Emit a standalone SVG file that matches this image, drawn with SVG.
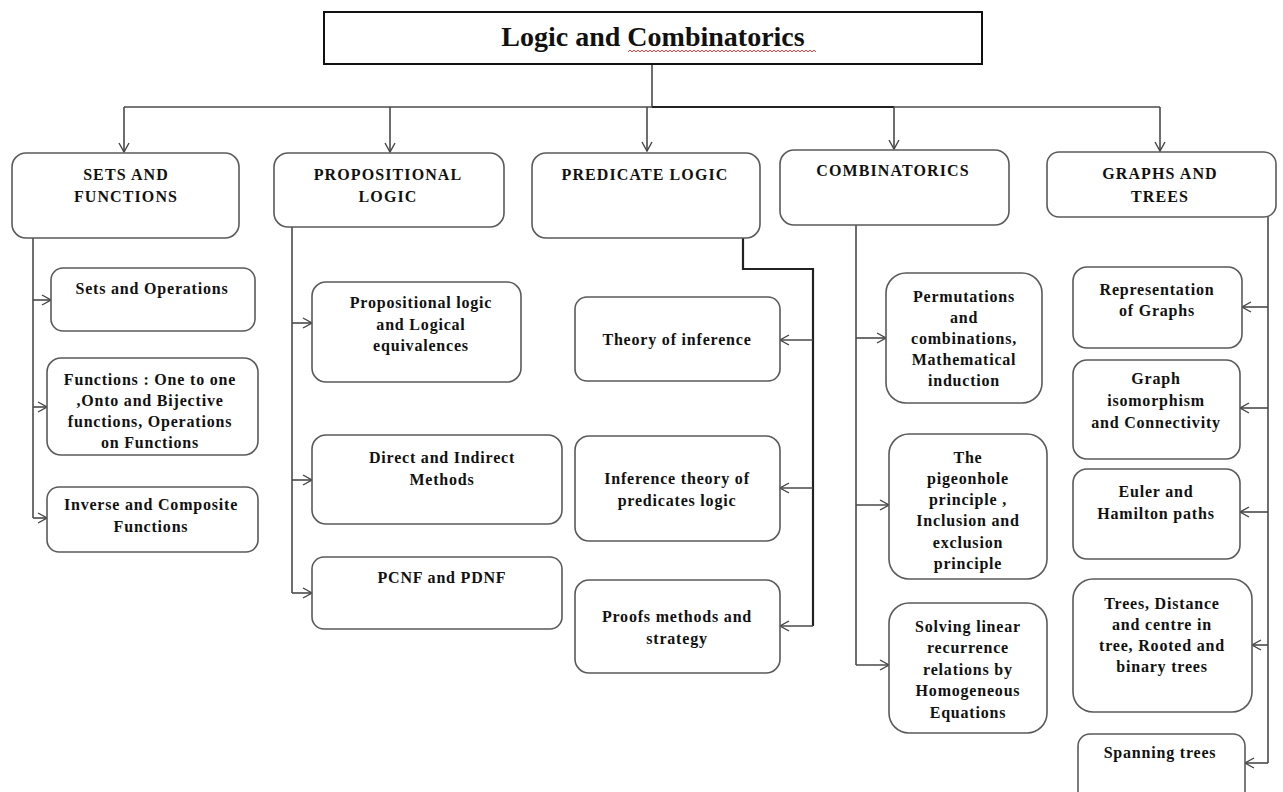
<svg xmlns="http://www.w3.org/2000/svg" width="1283" height="792" viewBox="0 0 1283 792">
<defs>
<marker id="ah" markerUnits="userSpaceOnUse" markerWidth="12" markerHeight="12" refX="10" refY="6" orient="auto" viewBox="0 0 12 12"><path d="M1,1 L10,6 L1,11" fill="none" stroke="#444" stroke-width="1.4"/></marker>
<style>
.box{fill:#fff;stroke:#5a5a5a;stroke-width:1.6}
.title{fill:#fff;stroke:#111;stroke-width:2}
.ln{fill:none;stroke:#4a4a4a;stroke-width:1.6}
.dk{fill:none;stroke:#222;stroke-width:2.2}
.arr{fill:none;stroke:#4a4a4a;stroke-width:1.6;marker-end:url(#ah)}
text{font-family:"Liberation Serif","Times New Roman",serif;font-weight:bold;fill:#111;text-anchor:middle}
.h{font-size:16px;letter-spacing:1.1px}
.c{font-size:16px;letter-spacing:0.8px}
.t{font-size:28px}
</style>
</defs>
<rect width="1283" height="792" fill="#fff"/>

<g id="connectors">
<path class="ln" d="M652,64 V107"/>
<path class="ln" d="M124,107 H1160"/>
<path class="dk" d="M652,107 H894"/>
<path class="arr" d="M124,107 V152"/>
<path class="arr" d="M390,107 V152"/>
<path class="arr" d="M647,107 V151"/>
<path class="arr" d="M894,107 V149"/>
<path class="arr" d="M1160,107 V151"/>

<path class="ln" d="M33,238 V518"/>
<path class="arr" d="M33,300 H51"/>
<path class="arr" d="M33,407 H47"/>
<path class="arr" d="M33,518 H47"/>

<path class="ln" d="M292,227 V593"/>
<path class="arr" d="M292,323 H312"/>
<path class="arr" d="M292,480 H312"/>
<path class="arr" d="M292,593 H312"/>

<path class="dk" d="M743,238 V269 H813 V626"/>
<path class="arr" d="M813,340 H780"/>
<path class="arr" d="M813,488 H780"/>
<path class="arr" d="M813,626 H780"/>

<path class="ln" d="M856,225 V665"/>
<path class="arr" d="M856,338 H886"/>
<path class="arr" d="M856,505 H889"/>
<path class="arr" d="M856,665 H889"/>

<path class="ln" d="M1268,217 V763"/>
<path class="arr" d="M1268,307 H1242"/>
<path class="arr" d="M1268,408 H1240"/>
<path class="arr" d="M1268,512 H1240"/>
<path class="arr" d="M1268,645 H1252"/>
<path class="arr" d="M1268,763 H1245"/>
</g>

<g id="title">
<rect class="title" x="324" y="12" width="658" height="52"/>
<text class="t" x="653" y="46">Logic and Combinatorics</text>
<path d="M628,52 l2,-2 l2,2 l2,-2 l2,2 l2,-2 l2,2 l2,-2 l2,2 l2,-2 l2,2 l2,-2 l2,2 l2,-2 l2,2 l2,-2 l2,2 l2,-2 l2,2 l2,-2 l2,2 l2,-2 l2,2 l2,-2 l2,2 l2,-2 l2,2 l2,-2 l2,2 l2,-2 l2,2 l2,-2 l2,2 l2,-2 l2,2 l2,-2 l2,2 l2,-2 l2,2 l2,-2 l2,2 l2,-2 l2,2 l2,-2 l2,2 l2,-2 l2,2 l2,-2 l2,2 l2,-2 l2,2 l2,-2 l2,2 l2,-2 l2,2 l2,-2 l2,2 l2,-2 l2,2 l2,-2 l2,2 l2,-2 l2,2 l2,-2 l2,2 l2,-2 l2,2 l2,-2 l2,2 l2,-2 l2,2 l2,-2 l2,2 l2,-2 l2,2 l2,-2 l2,2 l2,-2 l2,2 l2,-2 l2,2 l2,-2 l2,2 l2,-2 l2,2 l2,-2 l2,2 l2,-2 l2,2 l2,-2 l2,2 l2,-2 l2,2 l2,-2 l2,2" fill="none" stroke="#e03030" stroke-width="0.9"/>
</g>

<g id="sets">
<rect class="box" x="12" y="153" width="227" height="85" rx="14"/>
<text class="h" x="126" y="180">SETS AND</text>
<text class="h" x="126" y="202">FUNCTIONS</text>
</g>
<g id="sets-ops">
<rect class="box" x="51" y="268" width="204" height="63" rx="12"/>
<text class="c" x="152" y="294">Sets and Operations</text>
</g>
<g id="functions">
<rect class="box" x="47" y="358" width="211" height="97" rx="14"/>
<text class="c" x="150" y="385">Functions : One to one</text>
<text class="c" x="150" y="406">,Onto and Bijective</text>
<text class="c" x="150" y="427">functions, Operations</text>
<text class="c" x="150" y="448">on Functions</text>
</g>
<g id="inverse">
<rect class="box" x="47" y="487" width="211" height="65" rx="12"/>
<text class="c" x="151" y="510">Inverse and Composite</text>
<text class="c" x="151" y="532">Functions</text>
</g>

<g id="prop">
<rect class="box" x="274" y="153" width="230" height="74" rx="14"/>
<text class="h" x="388" y="180">PROPOSITIONAL</text>
<text class="h" x="388" y="202">LOGIC</text>
</g>
<g id="prop-logic">
<rect class="box" x="312" y="282" width="209" height="100" rx="14"/>
<text class="c" x="421" y="308">Propositional logic</text>
<text class="c" x="421" y="330">and Logical</text>
<text class="c" x="421" y="351">equivalences</text>
</g>
<g id="direct">
<rect class="box" x="312" y="435" width="250" height="89" rx="14"/>
<text class="c" x="442" y="463">Direct and Indirect</text>
<text class="c" x="442" y="485">Methods</text>
</g>
<g id="pcnf">
<rect class="box" x="312" y="557" width="250" height="72" rx="12"/>
<text class="c" x="442" y="583">PCNF and PDNF</text>
</g>

<g id="pred">
<rect class="box" x="532" y="153" width="228" height="85" rx="14"/>
<text class="h" x="645" y="180">PREDICATE LOGIC</text>
</g>
<g id="theory">
<rect class="box" x="575" y="297" width="205" height="84" rx="12"/>
<text class="c" x="677" y="345">Theory of inference</text>
</g>
<g id="inference">
<rect class="box" x="575" y="436" width="205" height="105" rx="14"/>
<text class="c" x="677" y="484">Inference theory of</text>
<text class="c" x="677" y="506">predicates logic</text>
</g>
<g id="proofs">
<rect class="box" x="575" y="580" width="205" height="93" rx="14"/>
<text class="c" x="677" y="622">Proofs methods and</text>
<text class="c" x="677" y="644">strategy</text>
</g>

<g id="comb">
<rect class="box" x="780" y="150" width="229" height="75" rx="14"/>
<text class="h" x="893" y="176">COMBINATORICS</text>
</g>
<g id="perm">
<rect class="box" x="886" y="273" width="156" height="130" rx="20"/>
<text class="c" x="964" y="302">Permutations</text>
<text class="c" x="964" y="323">and</text>
<text class="c" x="964" y="344">combinations,</text>
<text class="c" x="964" y="365">Mathematical</text>
<text class="c" x="964" y="386">induction</text>
</g>
<g id="pigeon">
<rect class="box" x="889" y="434" width="158" height="145" rx="20"/>
<text class="c" x="968" y="463">The</text>
<text class="c" x="968" y="484">pigeonhole</text>
<text class="c" x="968" y="505">principle ,</text>
<text class="c" x="968" y="526">Inclusion and</text>
<text class="c" x="968" y="548">exclusion</text>
<text class="c" x="968" y="569">principle</text>
</g>
<g id="solving">
<rect class="box" x="889" y="603" width="158" height="130" rx="20"/>
<text class="c" x="968" y="632">Solving linear</text>
<text class="c" x="968" y="653">recurrence</text>
<text class="c" x="968" y="675">relations by</text>
<text class="c" x="968" y="696">Homogeneous</text>
<text class="c" x="968" y="718">Equations</text>
</g>

<g id="graphs">
<rect class="box" x="1047" y="152" width="229" height="65" rx="12"/>
<text class="h" x="1160" y="179">GRAPHS AND</text>
<text class="h" x="1160" y="202">TREES</text>
</g>
<g id="representation">
<rect class="box" x="1073" y="267" width="169" height="81" rx="14"/>
<text class="c" x="1157" y="295">Representation</text>
<text class="c" x="1157" y="316">of Graphs</text>
</g>
<g id="isomorphism">
<rect class="box" x="1073" y="360" width="167" height="99" rx="14"/>
<text class="c" x="1156" y="384">Graph</text>
<text class="c" x="1156" y="406">isomorphism</text>
<text class="c" x="1156" y="428">and Connectivity</text>
</g>
<g id="euler">
<rect class="box" x="1073" y="469" width="167" height="90" rx="14"/>
<text class="c" x="1156" y="497">Euler and</text>
<text class="c" x="1156" y="519">Hamilton paths</text>
</g>
<g id="trees">
<rect class="box" x="1073" y="579" width="179" height="133" rx="20"/>
<text class="c" x="1162" y="609">Trees, Distance</text>
<text class="c" x="1162" y="630">and centre in</text>
<text class="c" x="1162" y="651">tree, Rooted and</text>
<text class="c" x="1162" y="672">binary trees</text>
</g>
<g id="spanning">
<rect class="box" x="1078" y="734" width="167" height="70" rx="12"/>
<text class="c" x="1160" y="758">Spanning trees</text>
</g>
</svg>
